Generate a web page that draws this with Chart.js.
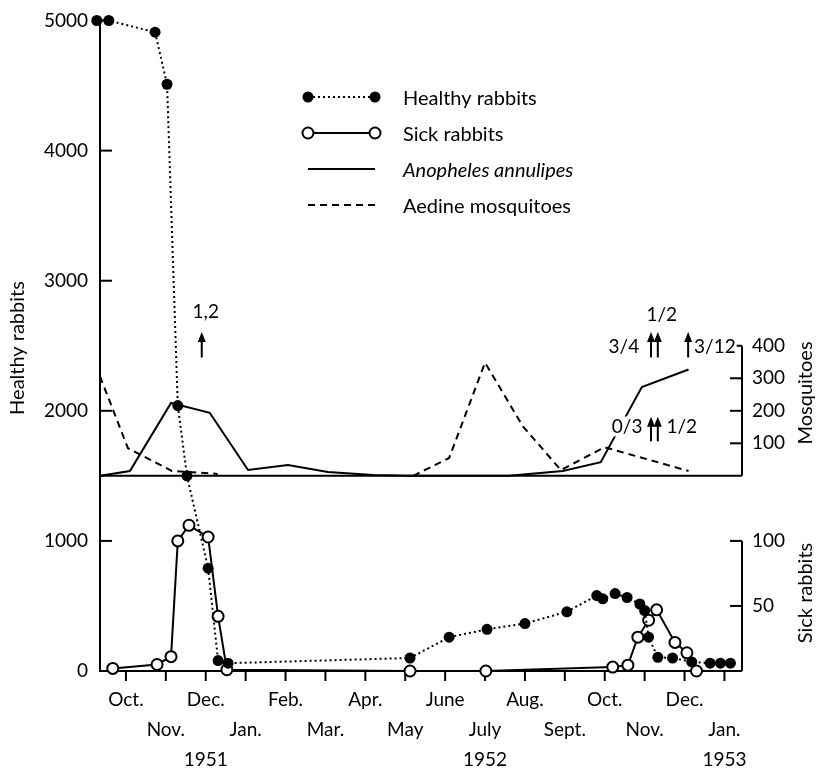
<!DOCTYPE html>
<html>
<head>
<meta charset="utf-8">
<title>Healthy and sick rabbits, mosquitoes 1951-1953</title>
<script src="https://cdn.jsdelivr.net/npm/chart.js@4.4.1/dist/chart.umd.min.js"></script>
<style>
  html, body { margin: 0; padding: 0; background: #fff; }
  canvas { display: block; }
</style>
</head>
<body>
<canvas id="grafica" width="821" height="771"></canvas>
<script>
// eje x en meses (0 = oct. 1951)
const monthLabels = ['Oct.', 'Nov.', 'Dec.', 'Jan.', 'Feb.', 'Mar.', 'Apr.', 'May', 'June', 'July', 'Aug.', 'Sept.', 'Oct.', 'Nov.', 'Dec.', 'Jan.'];
const yearAt = [2, 9, 15];
const yearLabels = ['1951', '1952', '1953'];

// ticks de los ejes
const healthyTicks = [0, 1000, 2000, 3000, 4000, 5000];
const mosquitoTicks = [100, 200, 300, 400];
const sickTicks = [50, 100];

// conejos sanos
const healthyMonths = [-0.73, -0.43, 0.73, 1.03, 1.3, 1.53, 2.06, 2.31, 2.56, 7.12, 8.1, 9.05, 10.0, 11.05, 11.8, 11.95, 12.26, 12.56, 12.88, 13.0, 13.1, 13.33, 13.7, 14.18, 14.64, 14.9, 15.15];
const healthyCounts = [5000, 5000, 4910, 4510, 2040, 1500, 790, 80, 60, 100, 260, 320, 365, 455, 580, 555, 595, 565, 515, 465, 260, 105, 100, 70, 60, 60, 60];

// conejos enfermos
const sickMonths = [-0.33, 0.78, 1.13, 1.3, 1.58, 2.06, 2.31, 2.53, 7.12, 9.02, 12.2, 12.58, 12.83, 13.1, 13.3, 13.76, 14.06, 14.3];
const sickCounts = [2, 5, 11, 100, 112, 103, 42, 1, 0, 0, 3, 4.5, 26, 39, 47, 22, 14, 0];

// mosquitos
const anophelesMonths = [-0.65, 0.1, 1.13, 2.1, 3.06, 4.06, 5.06, 6.2, 7.1, 9.6, 10.95, 11.9, 12.93, 14.1];
const anophelesCounts = [0, 15, 224, 194, 18, 33, 12, 3, 0, 0, 15, 42, 273, 327];
const aedineMonths = [-0.65, 0.05, 1.15, 2.3, 4.5, 7.2, 8.1, 9.0, 9.95, 10.9, 12.0, 14.1];
const aedineCounts = [306, 85, 15, 6, null, 0, 55, 348, 152, 18, 88, 15];

// notas con flechas (mes, mosquitos)
const noteMonths = [2.0, 13.43, 12.48, 14.76, 12.56, 13.93];
const noteLevels = [503, 494, 397, 397, 152, 152];
const noteTexts = ['1,2', '1/2', '3/4', '3/12', '0/3', '1/2'];
const arrowMonths = [1.9, 13.16, 13.33, 14.09, 13.16, 13.33];
const arrowFrom = [364, 364, 364, 364, 106, 106];
const arrowTo = [442, 442, 442, 442, 182, 182];

// como se alinean las escalas de la derecha con la de la izquierda
const mosZero = 1500, mosUnit = 2.5, sickUnit = 10;
const leftMax = 5100;

function puntos(xs, ys) {
    return xs.map((x, i) => ({ x: x, y: ys[i] }));
}

const rightTicks = mosquitoTicks.map(v => ({ value: v, label: String(v) }))
    .concat(sickTicks.map(v => ({ value: (v * sickUnit - mosZero) / mosUnit, label: String(v) })));

Chart.defaults.font.family = 'Lato, "Open Sans", sans-serif';
Chart.defaults.color = '#000';

function linea(ctx, x1, y1, x2, y2) {
    ctx.beginPath();
    ctx.moveTo(x1, y1);
    ctx.lineTo(x2, y2);
    ctx.stroke();
}

function flecha(ctx, x, yb, yt) {
    linea(ctx, x, yb, x, yt + 6);
    ctx.beginPath();
    ctx.moveTo(x, yt);
    ctx.lineTo(x - 4, yt + 10);
    ctx.lineTo(x + 4, yt + 10);
    ctx.closePath();
    ctx.fill();
}

// ejes a mano (ticks hacia adentro como en la figura)
const ejes = {
    id: 'ejes',
    beforeDatasetsDraw(chart) {
        const { ctx, chartArea: a, scales } = chart;
        const x = scales.x, y = scales.y, mos = scales.mos, sick = scales.sick;
        ctx.save();
        ctx.strokeStyle = '#000';
        ctx.lineWidth = 2;
        linea(ctx, a.left, y.getPixelForValue(5000), a.left, a.bottom + 1);
        healthyTicks.slice(1).forEach(v => {
            const p = y.getPixelForValue(v);
            linea(ctx, a.left, p, a.left + 12, p);
        });
        linea(ctx, a.left, a.bottom, a.right, a.bottom);
        monthLabels.forEach((_, i) => {
            const p = x.getPixelForValue(i);
            linea(ctx, p, a.bottom, p, a.bottom + 10);
        });
        const m0 = mos.getPixelForValue(0);
        linea(ctx, a.left, m0, a.right, m0);
        linea(ctx, a.right, mos.getPixelForValue(400), a.right, m0);
        mosquitoTicks.forEach(v => {
            const p = mos.getPixelForValue(v);
            linea(ctx, a.right - 12, p, a.right, p);
        });
        linea(ctx, a.right, sick.getPixelForValue(100), a.right, a.bottom);
        sickTicks.forEach(v => {
            const p = sick.getPixelForValue(v);
            linea(ctx, a.right - 12, p, a.right, p);
        });
        ctx.restore();
    },
    afterDatasetsDraw(chart) {
        const { ctx, scales } = chart;
        const x = scales.x, mos = scales.mos;
        ctx.save();
        ctx.fillStyle = '#000';
        ctx.strokeStyle = '#000';

        // titulos de los ejes
        ctx.font = '20px Lato';
        ctx.textAlign = 'center';
        ctx.textBaseline = 'middle';
        [['Healthy rabbits', 18, 348], ['Mosquitoes', 806, 393], ['Sick rabbits', 806, 593]].forEach(t => {
            ctx.save();
            ctx.translate(t[1], t[2]);
            ctx.rotate(-Math.PI / 2);
            ctx.fillText(t[0], 0, 0);
            ctx.restore();
        });

        // notas
        ctx.font = '19px Lato';
        noteTexts.forEach((t, i) => {
            const px = x.getPixelForValue(noteMonths[i]);
            const py = mos.getPixelForValue(noteLevels[i]);
            const w = ctx.measureText(t).width;
            ctx.fillStyle = '#fff';
            ctx.fillRect(px - w / 2 - 1, py - 10, w + 2, 20);
            ctx.fillStyle = '#000';
            ctx.fillText(t, px, py);
        });
        ctx.lineWidth = 2;
        arrowMonths.forEach((m, i) => {
            flecha(ctx, x.getPixelForValue(m), mos.getPixelForValue(arrowFrom[i]), mos.getPixelForValue(arrowTo[i]));
        });

        // leyenda
        chart.data.datasets.forEach((ds, i) => {
            const yy = 97 + i * 36;
            const x0 = 308, x1 = 375;
            ctx.strokeStyle = '#000';
            ctx.lineWidth = ds.borderWidth;
            ctx.setLineDash(ds.borderDash || []);
            linea(ctx, x0, yy, x1, yy);
            ctx.setLineDash([]);
            if (ds.pointRadius > 0) {
                [x0, x1].forEach(px => {
                    ctx.beginPath();
                    ctx.arc(px, yy, ds.pointRadius, 0, Math.PI * 2);
                    ctx.fillStyle = ds.pointBackgroundColor;
                    ctx.fill();
                    if (ds.pointBorderWidth > 0) {
                        ctx.lineWidth = ds.pointBorderWidth;
                        ctx.stroke();
                    }
                });
            }
            ctx.fillStyle = '#000';
            ctx.textAlign = 'left';
            ctx.font = (ds.italic ? 'italic ' : '') + '20px Lato';
            ctx.fillText(ds.label, 403, yy + 2);
        });
        ctx.restore();
    }
};

const tickFont = { size: 19 };

new Chart(document.getElementById('grafica'), {
    type: 'line',
    data: {
        datasets: [
            {
                label: 'Healthy rabbits',
                data: puntos(healthyMonths, healthyCounts),
                yAxisID: 'y',
                borderColor: '#000',
                borderWidth: 2,
                borderDash: [2, 3],
                pointRadius: 5.5,
                pointBackgroundColor: '#000',
                pointBorderColor: '#000',
                pointBorderWidth: 0,
                clip: false
            },
            {
                label: 'Sick rabbits',
                data: puntos(sickMonths, sickCounts),
                yAxisID: 'sick',
                borderColor: '#000',
                borderWidth: 2,
                pointRadius: 5.5,
                pointBackgroundColor: '#fff',
                pointBorderColor: '#000',
                pointBorderWidth: 2,
                clip: false
            },
            {
                label: 'Anopheles annulipes',
                italic: true,
                data: puntos(anophelesMonths, anophelesCounts),
                yAxisID: 'mos',
                borderColor: '#000',
                borderWidth: 2,
                pointRadius: 0,
                clip: false
            },
            {
                label: 'Aedine mosquitoes',
                data: puntos(aedineMonths, aedineCounts),
                yAxisID: 'mos',
                borderColor: '#000',
                borderWidth: 2,
                borderDash: [7, 5],
                pointRadius: 0,
                spanGaps: false,
                clip: false
            }
        ]
    },
    options: {
        responsive: false,
        animation: false,
        devicePixelRatio: 1,
        layout: { padding: 0 },
        plugins: { legend: { display: false }, tooltip: { enabled: false } },
        scales: {
            x: {
                type: 'linear',
                min: -0.65,
                max: 15.44,
                grid: { display: false, drawTicks: false },
                border: { display: false },
                afterBuildTicks: s => { s.ticks = monthLabels.map((_, i) => ({ value: i })); },
                ticks: {
                    autoSkip: false,
                    maxRotation: 0,
                    padding: 14,
                    font: { size: 19, lineHeight: 1.58 },
                    callback: v => {
                        const i = Math.round(v);
                        const k = yearAt.indexOf(i);
                        const yr = k >= 0 ? yearLabels[k] : '';
                        return i % 2 === 0 ? [monthLabels[i], '', yr] : ['', monthLabels[i], yr];
                    }
                },
                afterFit: s => { s.height = 100; s.paddingLeft = 0; s.paddingRight = 0; }
            },
            y: {
                position: 'left',
                min: 0,
                max: leftMax,
                grid: { display: false, drawTicks: false },
                border: { display: false },
                afterBuildTicks: s => { s.ticks = healthyTicks.map(v => ({ value: v })); },
                ticks: { padding: 12, font: tickFont, callback: v => String(v) },
                afterFit: s => { s.width = 100; s.paddingTop = 0; s.paddingBottom = 0; }
            },
            mos: {
                position: 'right',
                min: (0 - mosZero) / mosUnit,
                max: (leftMax - mosZero) / mosUnit,
                grid: { display: false, drawTicks: false },
                border: { display: false },
                afterBuildTicks: s => { s.ticks = rightTicks.map(t => ({ value: t.value })); },
                ticks: {
                    padding: 10,
                    font: tickFont,
                    callback: v => {
                        const t = rightTicks.find(r => Math.abs(r.value - v) < 0.01);
                        return t ? t.label : '';
                    }
                },
                afterFit: s => { s.width = 79; s.paddingTop = 0; s.paddingBottom = 0; }
            },
            sick: {
                display: false,
                position: 'right',
                min: 0,
                max: leftMax / sickUnit
            }
        }
    },
    plugins: [ejes]
});
</script>
</body>
</html>
